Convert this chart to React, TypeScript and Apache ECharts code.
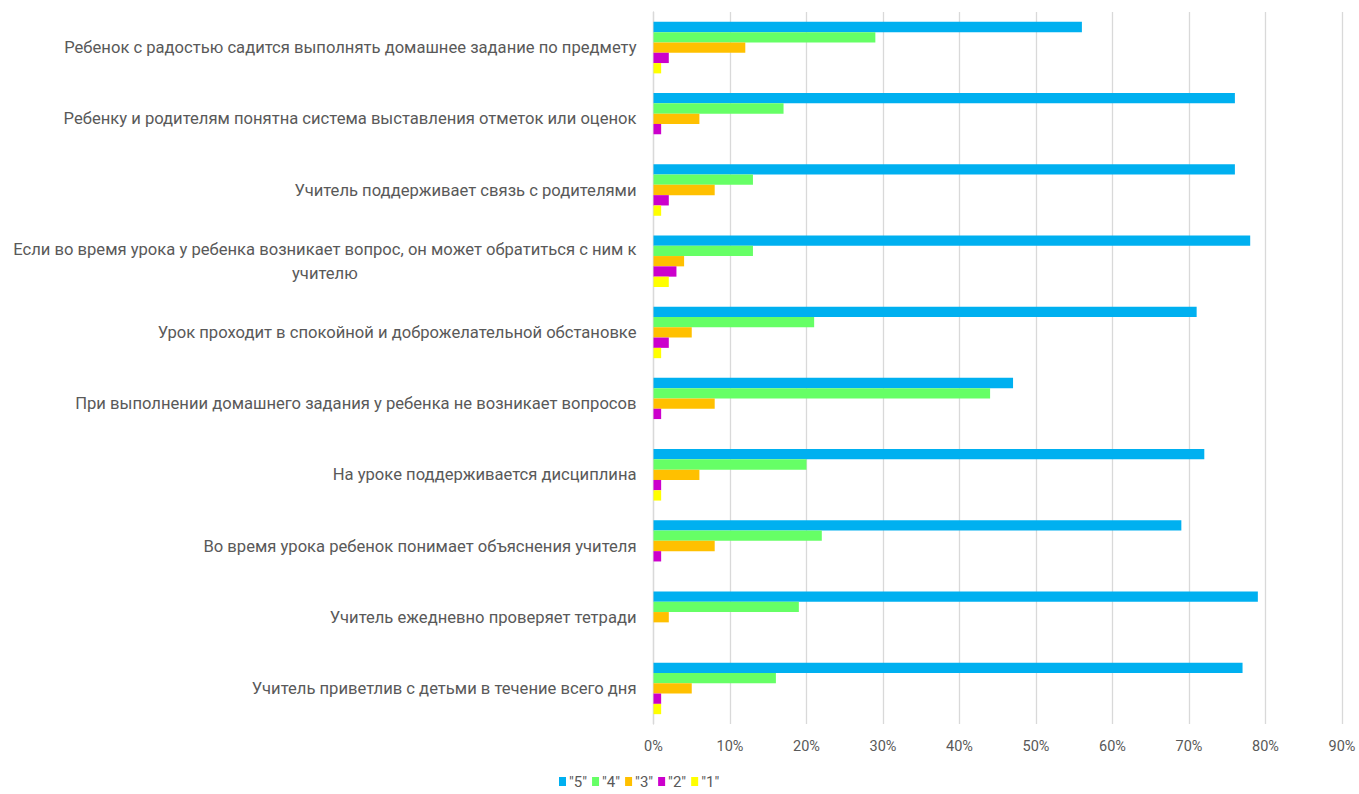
import React, { useEffect, useRef } from "react";
import * as echarts from "echarts";

const categories: string[] = [
  "Ребенок с радостью садится выполнять домашнее задание по предмету",
  "Ребенку и родителям понятна система выставления отметок или оценок",
  "Учитель поддерживает связь с родителями",
  "Если во время урока у ребенка возникает вопрос, он может обратиться с ним к\nучителю",
  "Урок проходит в спокойной и доброжелательной обстановке",
  "При выполнении домашнего задания у ребенка не возникает вопросов",
  "На уроке поддерживается дисциплина",
  "Во время урока ребенок понимает объяснения учителя",
  "Учитель ежедневно проверяет тетради",
  "Учитель приветлив с детьми в течение всего дня",
];

const seriesNames: string[] = ['"5"', '"4"', '"3"', '"2"', '"1"'];
const grade5: number[] = [56, 76, 76, 78, 71, 47, 72, 69, 79, 77];
const grade4: number[] = [29, 17, 13, 13, 21, 44, 20, 22, 19, 16];
const grade3: number[] = [12, 6, 8, 4, 5, 8, 6, 8, 2, 5];
const grade2: number[] = [2, 1, 2, 3, 2, 1, 1, 1, 0, 1];
const grade1: number[] = [1, 0, 1, 2, 1, 0, 1, 0, 0, 1];
const colors: string[] = ["#00B0F0", "#66FF66", "#FFC000", "#CC00CC", "#FFFF00"];
const xTicks = { min: 0, max: 90, interval: 10 };

const FONT = "Roboto, 'Noto Sans', sans-serif";
const LABEL_SIZE = 16.6;

export default function App() {
  const ref = useRef<HTMLDivElement>(null);
  useEffect(() => {
    if (!ref.current) return;
    const chart = echarts.init(ref.current, undefined, { renderer: "svg" });
    const values = [grade5, grade4, grade3, grade2, grade1];
    chart.setOption({
      animation: false,
      textStyle: { fontFamily: FONT },
      grid: { left: 653.5, right: 17, top: 12, bottom: 70, containLabel: false },
      legend: {
        data: seriesNames,
        left: 557,
        top: 772,
        padding: 2,
        icon: "rect",
        itemWidth: 7,
        itemHeight: 9,
        itemGap: 5,
        textStyle: { color: "#595959", fontSize: 15, fontFamily: FONT, padding: [0, 0, 0, -2] },
      },
      xAxis: {
        type: "value",
        min: xTicks.min,
        max: xTicks.max,
        interval: xTicks.interval,
        axisLine: { show: false },
        axisTick: { show: false },
        splitLine: { show: true, lineStyle: { color: "#d9d9d9", width: 1.3 } },
        axisLabel: { color: "#595959", fontSize: 14.5, margin: 15, formatter: "{value}%" },
      },
      yAxis: {
        type: "category",
        inverse: true,
        data: categories,
        axisLine: { show: true, lineStyle: { color: "#d9d9d9", width: 1.3 } },
        axisTick: { show: false },
        axisLabel: {
          color: "#595959",
          fontSize: LABEL_SIZE,
          margin: 17,
          lineHeight: 24,
          formatter: (v: string) => `{c|${v.replace("\n", "}\n{c|")}}`,
          rich: { c: { align: "center", color: "#595959", fontSize: LABEL_SIZE, lineHeight: 24, fontFamily: FONT } },
        },
      },
      series: seriesNames.map((name, i) => ({
        name,
        type: "bar",
        data: values[i],
        itemStyle: { color: colors[i] },
        barGap: "0%",
        barCategoryGap: "27.6%",
      })),
    });
    return () => chart.dispose();
  }, []);
  return (
    <div
      ref={ref}
      style={{ position: "fixed", left: 0, top: 0, width: 1359, height: 794, background: "#fff" }}
    />
  );
}
